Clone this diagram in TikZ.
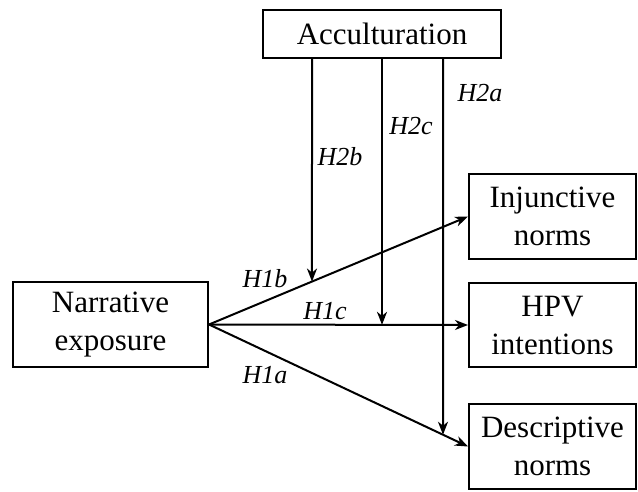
\documentclass[tikz,border=0pt]{standalone}
\usepackage{fontspec}
\setmainfont{Liberation Serif}
\usetikzlibrary{arrows.meta,calc}
\begin{document}
\begin{tikzpicture}[x=1pt,y=-1pt,
  box/.style={draw,line width=2pt,inner sep=0pt,align=center,
    font=\fontsize{31}{38}\selectfont},
  lbl/.style={font=\fontsize{26}{30}\selectfont\itshape,inner sep=0pt},
  arr/.style={line width=2pt,-{Stealth[length=13pt,width=10pt,inset=4pt]}}]
\useasboundingbox (0,0) rectangle (638,491);
\node[box,minimum width=238pt,minimum height=48pt] (acc) at (382,34) {Acculturation};
\node[box,minimum width=195pt,minimum height=85pt] (nar) at (110.5,324.5) {Narrative\\exposure};
\node[box,minimum width=167pt,minimum height=85pt] (inj) at (552.5,216.5) {Injunctive\\norms};
\node[box,minimum width=167pt,minimum height=84pt] (hpv) at (552.5,325) {HPV\\intentions};
\node[box,minimum width=167pt,minimum height=85pt] (des) at (552.5,446.5) {Descriptive\\norms};
\coordinate (o) at (nar.east);
\coordinate (ca) at (312,0); \coordinate (cb) at (312,491);
\coordinate (cc) at (382,0); \coordinate (cd) at (382,491);
\coordinate (ce) at (443,0); \coordinate (cf) at (443,491);
\draw[arr] (o) -- (inj.west);
\draw[arr] (o) -- (hpv.west);
\draw[arr] (o) -- (des.west);
\draw[arr] (acc.south -| ca) -- (intersection of o--inj.west and ca--cb);
\draw[arr] (acc.south -| cc) -- (intersection of o--hpv.west and cc--cd);
\draw[arr] (acc.south -| ce) -- (intersection of o--des.west and ce--cf);
\node[lbl] (l2a) at (480,93) {H2a};
\node[lbl] (l2c) at (411,126) {H2c};
\node[lbl] (l2b) at (340,157) {H2b};
\node[lbl] (l1b) at (265,279) {H1b};
\node[lbl] (l1c) at (325,311) {H1c};
\node[lbl] (l1a) at (265,375) {H1a};
\end{tikzpicture}
\end{document}
